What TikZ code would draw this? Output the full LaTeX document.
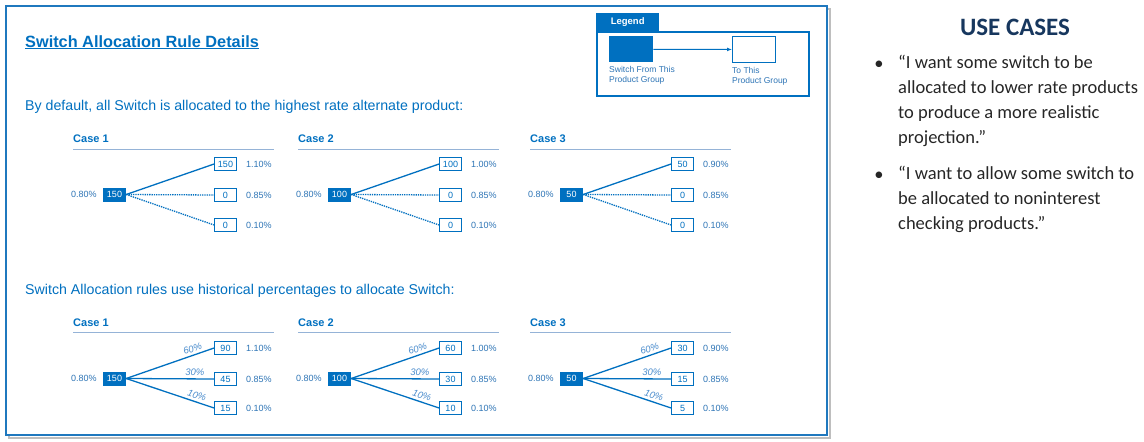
\documentclass[tikz,border=0pt]{standalone}
\usepackage{fontspec}
\setmainfont{Liberation Sans}
\newfontfamily\ucfont{Carlito}
\usetikzlibrary{positioning, arrows.meta}

\definecolor{swblue}{RGB}{0,112,192}
\definecolor{swframe}{RGB}{31,120,190}
\definecolor{swtext}{RGB}{46,117,182}
\definecolor{swlabel}{RGB}{74,140,205}
\definecolor{swrule}{RGB}{149,179,215}
\definecolor{swshadow}{RGB}{190,190,190}
\definecolor{ucnavy}{RGB}{23,55,94}
\definecolor{ucbody}{RGB}{38,38,38}

\begin{document}
\begin{tikzpicture}[
    x=1pt, y=-1pt,
    srcbox/.style={fill=swblue, text=white, minimum width=23pt, minimum height=14pt, inner sep=1pt, font=\fontsize{9}{10}\selectfont},
    tgtbox/.style={draw=swblue, fill=white, text=swblue, line width=0.8pt, minimum width=22pt, minimum height=13pt, inner sep=1pt, font=\fontsize{9}{10}\selectfont},
    rate/.style={text=swtext, inner sep=0pt, font=\fontsize{9}{10}\selectfont},
    share/.style={sloped, above=2.5pt, pos=0.78, inner sep=0pt, text=swlabel, font=\itshape\fontsize{9.5}{11}\selectfont},
    link/.style={draw=swblue, line width=1.3pt},
    casehead/.style={anchor=base west, inner sep=0pt, text=swblue, font=\bfseries\fontsize{11}{13}\selectfont},
    caserule/.style={draw=swrule, line width=0.8pt},
    bodytext/.style={anchor=base west, inner sep=0pt, text=swblue, font=\fontsize{14.2}{17}\selectfont},
    legendtext/.style={inner sep=0pt, align=left, text=swtext, font=\fontsize{8.5}{10}\selectfont},
    ucbullet/.style={inner sep=0pt, anchor=base, text=ucbody, font=\ucfont\fontsize{18.5}{25}\selectfont},
    uctext/.style={inner sep=0pt, anchor=north west, align=left, text=ucbody, font=\ucfont\fontsize{18.5}{25}\selectfont}
]
\useasboundingbox (0,0) rectangle (1144,442);

    % Panel frame and its shadow
    \draw[swshadow, line width=2pt] (9,9) rectangle (830,438);
    \draw[swframe, line width=2.5pt, fill=white] (6,6) rectangle (827,435);

    % Title
    \node[anchor=base west, inner sep=0pt, text=swblue, font=\bfseries\fontsize{16.3}{19}\selectfont] (title) at (25,47) {\underline{Switch Allocation Rule Details}};

    % Legend
    \node[fill=swblue, text=white, minimum width=63pt, minimum height=18pt, inner sep=0pt, anchor=south west, font=\bfseries\fontsize{9.5}{11}\selectfont] (legtab) at (596,31) {Legend};
    \node[draw=swblue, line width=1.8pt, minimum width=212pt, minimum height=64pt, anchor=north west] (legbox) at (596,31) {};
    \node[fill=swblue, minimum width=44pt, minimum height=26pt, anchor=north west] (legfrom) at (609,36) {};
    \node[draw=swblue, fill=white, line width=1pt, minimum width=43pt, minimum height=26pt, anchor=north west] (legto) at (732,36) {};
    \draw[swblue, line width=1pt, -{Latex[length=5pt,width=4pt]}] (legfrom) -- (legto);
    \node[legendtext, below=4pt of legfrom.south west, anchor=north west] (legfromtxt) {Switch From This\\Product Group};
    \node[legendtext, below=4pt of legto.south west, anchor=north west] (legtotxt) {To This\\Product Group};

    % Default rule: everything to the highest rate
    \node[bodytext] (deftxt) at (25,110) {By default, all Switch is allocated to the highest rate alternate product:};

    \foreach \dx/\n/\s/\a/\b/\c/\ra/\rb/\rc in {0/1/150/150/0/0/1.10/0.85/0.10, 225/2/100/100/0/0/1.00/0.85/0.10, 457/3/50/50/0/0/0.90/0.85/0.10} {
        \node[casehead] (def\n-head) at (73+\dx,142) {Case \n};
        \draw[caserule] (73+\dx,149) -- (274+\dx,149);
        \node[srcbox] (def\n-src) at (114.5+\dx,194.5) {\s};
        \node[rate, left=6pt of def\n-src] (def\n-in) {0.80\%};
        \node[tgtbox] (def\n-a) at (225.5+\dx,164) {\a};
        \node[tgtbox] (def\n-b) at (225.5+\dx,195) {\b};
        \node[tgtbox] (def\n-c) at (225.5+\dx,225) {\c};
        \node[rate, right=9pt of def\n-a] (def\n-ra) {\ra\%};
        \node[rate, right=9pt of def\n-b] (def\n-rb) {\rb\%};
        \node[rate, right=9pt of def\n-c] (def\n-rc) {\rc\%};
        \path (def\n-src.east) edge[link] (def\n-a.west)
                               edge[link, densely dotted] (def\n-b.west)
                               edge[link, densely dotted] (def\n-c.west);
    }

    % Historical rule: split by percentages
    \node[bodytext] (histtxt) at (25,294) {Switch Allocation rules use historical percentages to allocate Switch:};

    \foreach \dx/\n/\s/\a/\b/\c/\ra/\rb/\rc in {0/1/150/90/45/15/1.10/0.85/0.10, 225/2/100/60/30/10/1.00/0.85/0.10, 457/3/50/30/15/5/0.90/0.85/0.10} {
        \node[casehead] (hist\n-head) at (73+\dx,326) {Case \n};
        \draw[caserule] (73+\dx,332) -- (274+\dx,332);
        \node[srcbox] (hist\n-src) at (114.5+\dx,378.5) {\s};
        \node[rate, left=6pt of hist\n-src] (hist\n-in) {0.80\%};
        \node[tgtbox] (hist\n-a) at (225.5+\dx,348) {\a};
        \node[tgtbox] (hist\n-b) at (225.5+\dx,379) {\b};
        \node[tgtbox] (hist\n-c) at (225.5+\dx,408) {\c};
        \node[rate, right=9pt of hist\n-a] (hist\n-ra) {\ra\%};
        \node[rate, right=9pt of hist\n-b] (hist\n-rb) {\rb\%};
        \node[rate, right=9pt of hist\n-c] (hist\n-rc) {\rc\%};
        \path (hist\n-src.east) edge[link] node[share] {60\%} (hist\n-a.west)
                                edge[link] node[share] {30\%} (hist\n-b.west)
                                edge[link] node[share] {10\%} (hist\n-c.west);
    }

    % Use cases
    \node[anchor=base, inner sep=0pt, text=ucnavy, font=\ucfont\bfseries\fontsize{25}{30}\selectfont] (uchead) at (1015,35) {USE CASES};
    \node[ucbullet] (ucdot1) at (879,69) {•};
    \node[uctext] (uc1) at (898,55) {“I want some switch to be\\allocated to lower rate products\\to produce a more realistic\\projection.”};
    \node[ucbullet] (ucdot2) at (879,180) {•};
    \node[uctext] (uc2) at (898,166) {“I want to allow some switch to\\be allocated to noninterest\\checking products.”};

\end{tikzpicture}
\end{document}
